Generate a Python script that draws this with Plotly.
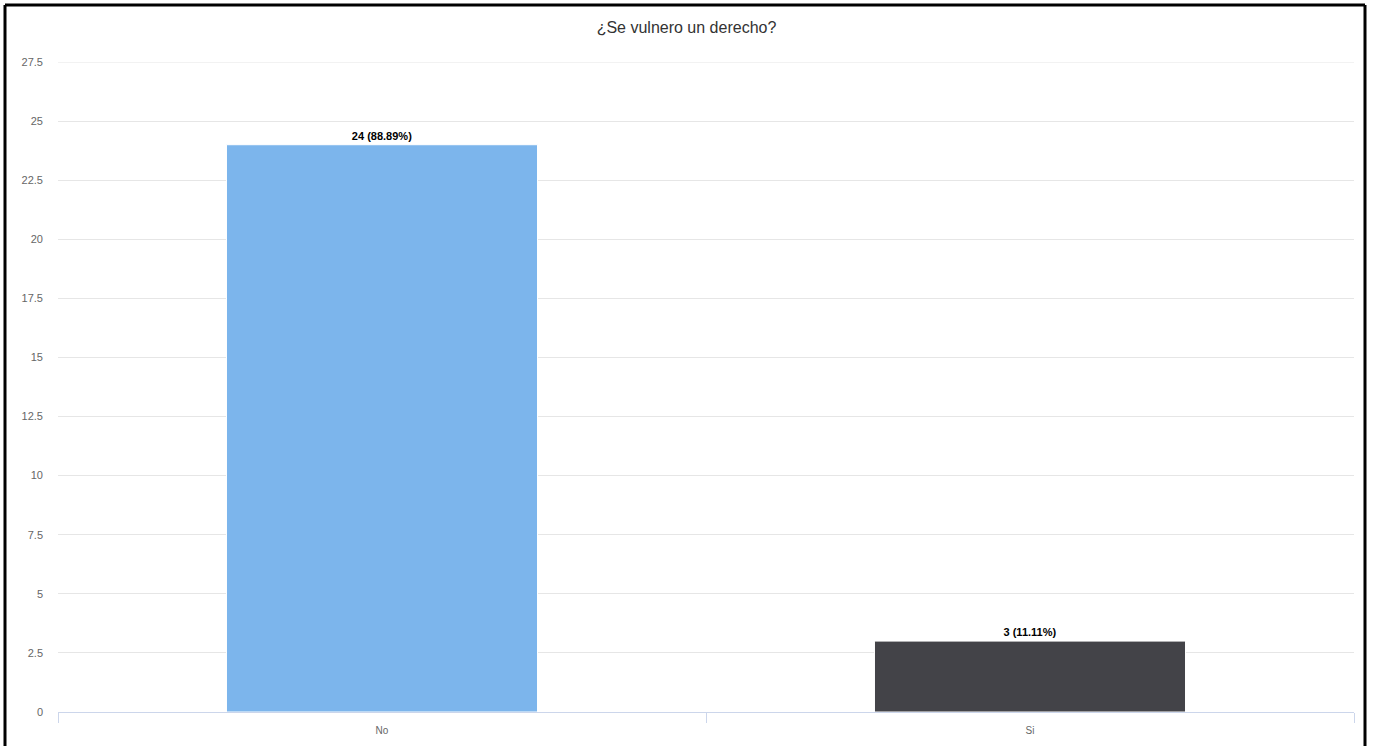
import plotly.graph_objects as go

categories = ["No", "Si"]
counts = [24, 3]
percents = ["88.89%", "11.11%"]
bar_colors = ["#7cb5ec", "#434348"]
y_ticks = [0, 2.5, 5, 7.5, 10, 12.5, 15, 17.5, 20, 22.5, 25, 27.5]
title_text = "¿Se vulnero un derecho?"

labels = [f"{c} ({p})" for c, p in zip(counts, percents)]

fig = go.Figure()
fig.add_trace(go.Bar(
    x=categories,
    y=counts,
    text=labels,
    textposition="outside",
    textfont=dict(family="Liberation Sans, Arial, sans-serif", size=11, color="#000000"),
    texttemplate="<b>%{text}</b>",
    cliponaxis=False,
    marker=dict(color=bar_colors, line=dict(color="#ffffff", width=1)),
    width=0.48,
    hoverinfo="x+y",
))

W, H = 1373, 746
L, R, T, B = 58, 19, 62, 34
pw, ph = W - L - R, H - T - B

def px_x(p):
    return (p - L) / pw

def px_y(p):
    return (H - B - p) / ph

fig.update_layout(
    width=W, height=H,
    margin=dict(l=L, r=R, t=T, b=B, pad=0, autoexpand=False),
    paper_bgcolor="#ffffff",
    plot_bgcolor="#ffffff",
    showlegend=False,
    font=dict(family="Liberation Sans, Arial, sans-serif", color="#666666", size=11),
    title=dict(
        text=title_text,
        x=0.5, xanchor="center",
        y=1 - 27 / H, yanchor="middle", yref="container",
        font=dict(size=16, color="#333333", family="Liberation Sans, Arial, sans-serif"),
    ),
    xaxis=dict(
        type="category",
        tickson="boundaries",
        ticks="outside",
        ticklen=10,
        tickcolor="#ccd6eb",
        showline=True,
        linecolor="#ccd6eb",
        linewidth=1,
        showgrid=False,
        ticklabelstandoff=9,
        automargin=False,
        tickfont=dict(size=10, color="#666666"),
        fixedrange=True,
    ),
    yaxis=dict(
        range=[0, y_ticks[-1]],
        tickvals=y_ticks,
        ticktext=[("%g" % v) for v in y_ticks],
        showgrid=True,
        gridcolor="#e6e6e6",
        gridwidth=1,
        zeroline=False,
        showline=False,
        ticks="",
        ticklabelstandoff=14,
        automargin=False,
        tickfont=dict(size=11, color="#666666"),
        fixedrange=True,
    ),
)

# top gridline (plotly skips the gridline lying on the plot edge)
fig.add_shape(type="line", xref="paper", yref="y", x0=0, x1=1, y0=y_ticks[-1], y1=y_ticks[-1],
              line=dict(color="#e6e6e6", width=1), layer="below")

# Black frame around the picture (top, left, right)
frame_color = "#000000"
x_left, x_right = px_x(5), px_x(1365)
y_top, y_bottom = px_y(5), px_y(H + 5)
for x0, x1, y0, y1 in [(x_left, x_right, y_top, y_top),
                       (x_left, x_left, y_top, y_bottom),
                       (x_right, x_right, y_top, y_bottom)]:
    fig.add_shape(type="line", xref="paper", yref="paper", x0=x0, x1=x1, y0=y0, y1=y1,
                  line=dict(color=frame_color, width=3))

fig.write_html(
    "out.html",
    config={"displayModeBar": False},
    post_script="document.body.style.margin='0';document.body.style.overflow='hidden';",
)
